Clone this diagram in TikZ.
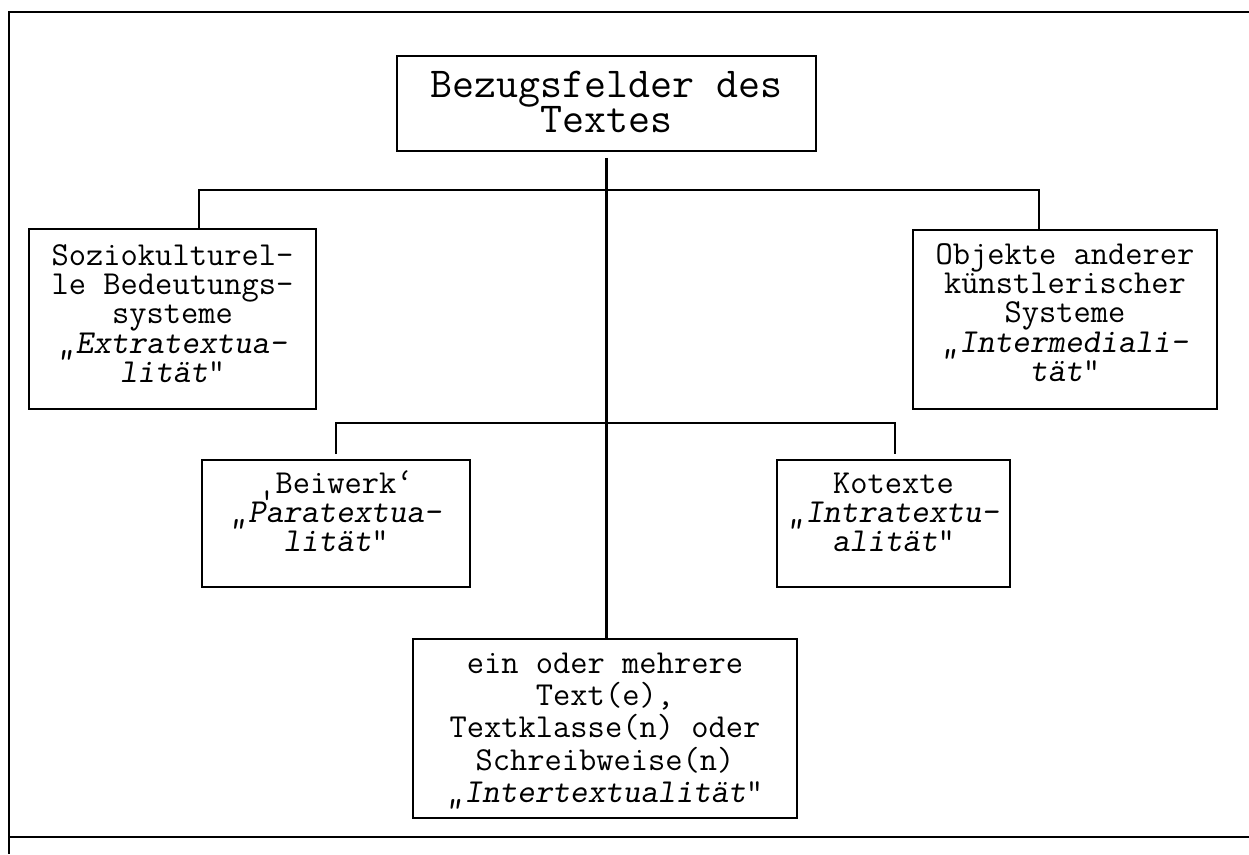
\documentclass[tikz,border=0pt]{standalone}
\usepackage{fontspec}
\def\U{0.37pt}
\def\lnP{10.9pt}
% one centred line of fixed pitch \lnP
\newcommand\Ln[1]{\hbox to 0pt{\hss\vrule height\lnP depth0pt width0pt\smash{#1}\hss}}
% a block of lines whose baseline is the first line's baseline
\newcommand\Lines[2]{\def\lnP{#1}\vtop{\offinterlineskip#2}}
\newcommand\fsmall{\ttfamily\fontsize{12.4pt}{10.9pt}\selectfont}
\newcommand\fbig{\ttfamily\fontsize{15.8pt}{13.3pt}\selectfont}
\tikzset{
  boxnode/.style={draw, line width=0.75pt, rectangle, inner sep=0pt},
  txt/.style={anchor=base, inner sep=0pt, font=\fsmall},
  txtbig/.style={txt, font=\fbig},
  conn/.style={line width=0.75pt},
  frameline/.style={line width=1pt}
}
\begin{document}
\begin{tikzpicture}[x=0.37pt, y=-0.37pt]
\useasboundingbox (0,0) rectangle (1249,854);
% frame
\draw[frameline] (1249,12) -- (9,12) -- (9,854);
\draw[frameline] (8,837) -- (1249,837);
% boxes
\node[boxnode, minimum width=419*\U, minimum height=95*\U] (title) at (606.5,103.5) {};
\node[boxnode, minimum width=287*\U, minimum height=180*\U] (soz) at (172.5,319) {};
\node[boxnode, minimum width=304*\U, minimum height=179*\U] (obj) at (1065,319.5) {};
\node[boxnode, minimum width=268*\U, minimum height=127*\U] (beiw) at (336,523.5) {};
\node[boxnode, minimum width=233*\U, minimum height=127*\U] (kot) at (893.5,523.5) {};
\node[boxnode, minimum width=384*\U, minimum height=179*\U] (inter) at (605,728.5) {};
% texts (anchor = baseline of first line)
\node[txtbig] (titletxt) at (606.5,97) {\Lines{13.3pt}{\Ln{Bezugsfelder des}\Ln{Textes}}};
\node[txt] (soztxt) at (172.5,265) {\Lines{10.9pt}{\Ln{Soziokulturel-}\Ln{le Bedeutungs-}\Ln{systeme}\Ln{\slshape „Extratextua-}\Ln{{\slshape lität}“}}};
\node[txt] (objtxt) at (1065,264) {\Lines{10.9pt}{\Ln{Objekte anderer}\Ln{künstlerischer}\Ln{Systeme}\Ln{\slshape „Intermediali-}\Ln{{\slshape tät}“}}};
\node[txt] (beiwtxt) at (336,493) {\Lines{10.9pt}{\Ln{‚Beiwerk‘}\Ln{\slshape „Paratextua-}\Ln{{\slshape lität}“}}};
\node[txt] (kottxt) at (893.5,493) {\Lines{10.9pt}{\Ln{Kotexte}\Ln{\slshape „Intratextu-}\Ln{{\slshape alität}“}}};
\node[txt] (intertxt) at (605,673) {\Lines{12pt}{\Ln{ein oder mehrere}\Ln{Text(e),}\Ln{Textklasse(n) oder}\Ln{Schreibweise(n)}\Ln{{\slshape „Intertextualität}“}}};
% connectors
\draw[conn, shorten <=2.2pt] (title.south) -- (title.south |- inter.north);
\coordinate (ul) at (199,190);
\coordinate (ur) at (1039,190);
\draw[conn] (soz.north -| ul) -- (ul) -- (ur) -- (obj.north -| ur);
\coordinate (ml) at (336,423);
\coordinate (mr) at (895,423);
\draw[conn, shorten <=1.85pt, shorten >=1.85pt] (beiw.north -| ml) -- (ml) -- (mr) -- (kot.north -| mr);
\end{tikzpicture}
\end{document}
